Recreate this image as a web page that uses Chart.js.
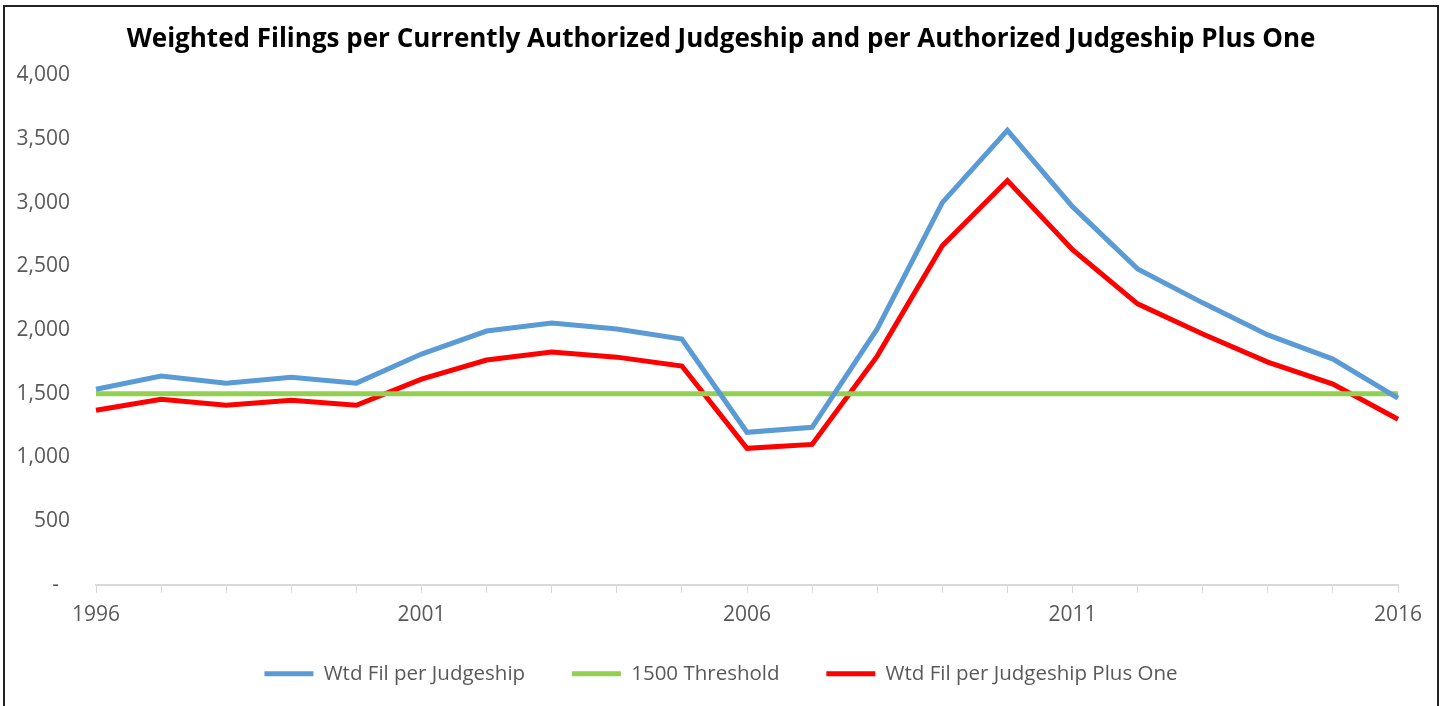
<!DOCTYPE html>
<html lang="en">
<head>
    <meta charset="UTF-8">
    <title>Weighted Filings</title>
    <script src="https://cdn.jsdelivr.net/npm/chart.js"></script>
    <style>
        html, body { margin: 0; padding: 0; background: #fff; overflow: hidden; }
        #wrap {
            position: absolute; left: 3px; top: 5px;
            width: 1436px; height: 705px;
            border: 2px solid #222; box-sizing: border-box;
        }
        canvas { display: block; }
    </style>
</head>
<body>
    <div id="wrap"><canvas id="filingsChart"></canvas></div>

    <script>
        const years = [
            '1996', '1997', '1998', '1999', '2000', '2001', '2002', '2003', '2004', '2005', '2006',
            '2007', '2008', '2009', '2010', '2011', '2012', '2013', '2014', '2015', '2016'
        ];
        const wtdPerJudgeship = [
            1535, 1638, 1583, 1630, 1583, 1811, 1992, 2055, 2008, 1929, 1197,
            1236, 2008, 3000, 3567, 2968, 2480, 2213, 1961, 1772, 1465
        ];
        const threshold = [
            1500, 1500, 1500, 1500, 1500, 1500, 1500, 1500, 1500, 1500, 1500,
            1500, 1500, 1500, 1500, 1500, 1500, 1500, 1500, 1500, 1500
        ];
        const wtdPlusOne = [
            1370, 1457, 1409, 1449, 1409, 1614, 1764, 1827, 1787, 1717, 1071,
            1102, 1795, 2661, 3173, 2630, 2205, 1969, 1748, 1575, 1300
        ];

        const greyTxt = '#595959';
        const fontName = "'Open Sans', sans-serif";

        function makeChart() {
            const ctx = document.getElementById('filingsChart').getContext('2d');
            const filingsChart = new Chart(ctx, {
                type: 'line',
                data: {
                    labels: years,
                    datasets: [
                        { label: 'Wtd Fil per Judgeship', data: wtdPerJudgeship, borderColor: '#5B9BD5', backgroundColor: '#5B9BD5' },
                        { label: '1500 Threshold', data: threshold, borderColor: '#92D050', backgroundColor: '#92D050' },
                        { label: 'Wtd Fil per Judgeship Plus One', data: wtdPlusOne, borderColor: '#FF0000', backgroundColor: '#FF0000' }
                    ]
                },
                options: {
                    responsive: true,
                    maintainAspectRatio: false,
                    animation: false,
                    elements: {
                        line: { borderWidth: 5, tension: 0 },
                        point: { radius: 0 }
                    },
                    layout: { padding: { left: 10, right: 10, top: 0, bottom: 14 } },
                    plugins: {
                        title: {
                            display: true,
                            text: 'Weighted Filings per Currently Authorized Judgeship and per Authorized Judgeship Plus One',
                            color: '#000',
                            font: { family: fontName, size: 26, weight: 'bold' },
                            padding: { top: 17, bottom: 20 }
                        },
                        legend: {
                            position: 'bottom',
                            labels: {
                                color: greyTxt,
                                font: { family: fontName, size: 20.5 },
                                boxWidth: 49,
                                boxHeight: 0,
                                padding: 25.5,
                                // a bit more room between entries than the padding gives
                                generateLabels: function (chart) {
                                    const items = Chart.defaults.plugins.legend.labels.generateLabels(chart);
                                    items.forEach(function (it, i) {
                                        if (i < items.length - 1) it.text += '    ';
                                    });
                                    return items;
                                }
                            }
                        },
                        tooltip: { enabled: false }
                    },
                    scales: {
                        x: {
                            grid: { drawOnChartArea: false, color: '#D9D9D9', tickLength: 8 },
                            border: { color: '#D9D9D9', width: 2 },
                            ticks: {
                                color: greyTxt,
                                padding: 10,
                                font: { family: fontName, size: 21 },
                                autoSkip: false,
                                maxRotation: 0,
                                callback: function (val, index) {
                                    return index % 5 === 0 ? years[index] : '';
                                }
                            }
                        },
                        y: {
                            min: 0,
                            max: 4000,
                            grid: { display: false },
                            border: { display: false },
                            ticks: {
                                stepSize: 500,
                                color: greyTxt,
                                padding: 18,
                                font: { family: fontName, size: 21 },
                                callback: function (val) {
                                    return val === 0 ? '-  ' : val.toLocaleString('en-US');
                                }
                            },
                            afterFit: function (axis) {
                                axis.width = 81;
                            }
                        },
                        // empty strip on the right so the plot ends where the original does
                        yRight: {
                            position: 'right',
                            grid: { display: false },
                            border: { display: false },
                            ticks: { display: false },
                            afterFit: function (axis) {
                                axis.width = 29;
                            }
                        }
                    }
                }
            });
        }

        makeChart();
    </script>
</body>
</html>
